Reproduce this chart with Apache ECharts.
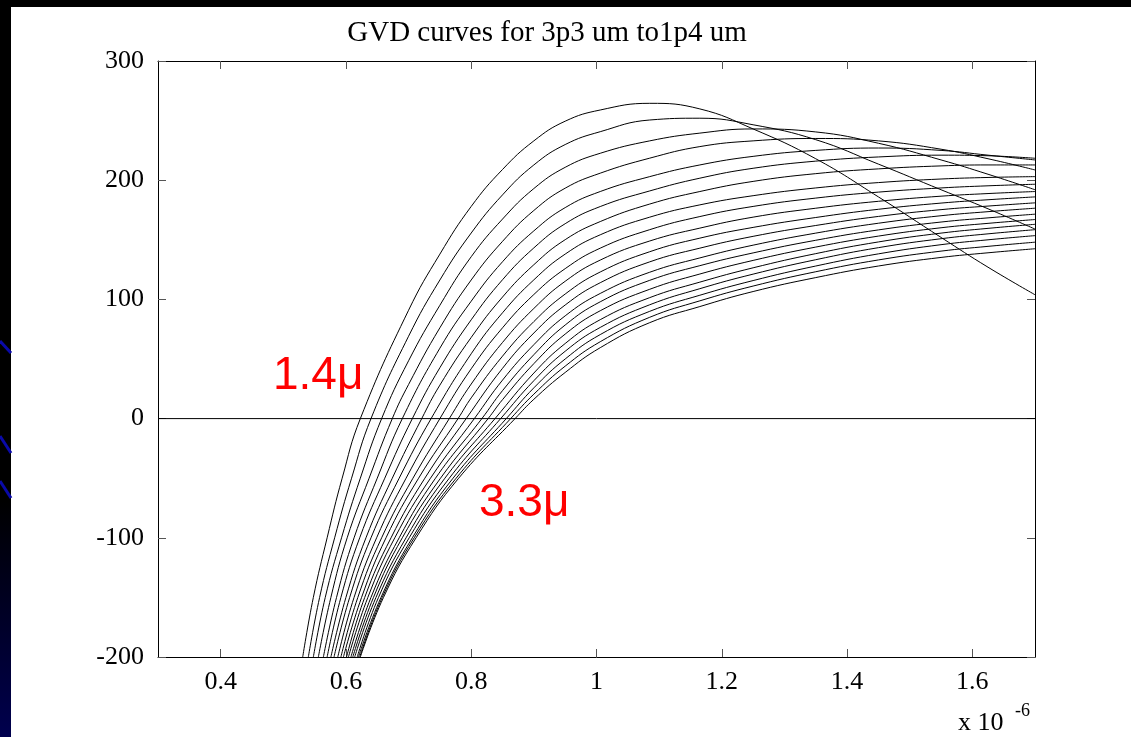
<!DOCTYPE html>
<html>
<head>
<meta charset="utf-8">
<title>GVD curves</title>
<script src="https://cdn.jsdelivr.net/npm/echarts@6/dist/echarts.min.js"></script>
<style>
  html, body { margin: 0; padding: 0; background: #fff; }
  #chart { width: 1131px; height: 737px; }
</style>
</head>
<body>
<div id="chart"></div>
<script>
// Core sizes, one GVD curve per size (1.4 um ... 3.3 um)
const coreSizes = ['1.4', '1.5', '1.6', '1.7', '1.8', '1.9', '2.0', '2.1', '2.2', '2.3',
                   '2.4', '2.5', '2.6', '2.7', '2.8', '2.9', '3.0', '3.1', '3.2', '3.3'];

// Wavelength (x 1e-6 m) where each curve passes the given GVD level
const gvdLevels   = [-200, -150, -100, -50, 0];
const xAtMinus200 = [0.531, 0.540, 0.548, 0.556, 0.564, 0.570, 0.576, 0.581, 0.587, 0.592,
                     0.596, 0.601, 0.604, 0.608, 0.611, 0.614, 0.618, 0.620, 0.622, 0.623];
const xAtMinus150 = [0.548, 0.558, 0.567, 0.576, 0.585, 0.592, 0.600, 0.606, 0.613, 0.619,
                     0.625, 0.630, 0.635, 0.640, 0.644, 0.648, 0.652, 0.656, 0.658, 0.660];
const xAtMinus100 = [0.570, 0.582, 0.593, 0.602, 0.613, 0.622, 0.632, 0.640, 0.649, 0.657,
                     0.664, 0.672, 0.678, 0.685, 0.690, 0.696, 0.701, 0.706, 0.709, 0.712];
const xAtMinus50  = [0.594, 0.609, 0.623, 0.637, 0.650, 0.662, 0.674, 0.685, 0.696, 0.707,
                     0.716, 0.726, 0.735, 0.743, 0.751, 0.758, 0.765, 0.771, 0.776, 0.780];
const xAtZero     = [0.623, 0.640, 0.657, 0.674, 0.690, 0.706, 0.721, 0.736, 0.750, 0.765,
                     0.779, 0.792, 0.805, 0.817, 0.827, 0.838, 0.847, 0.856, 0.863, 0.870];

// GVD of each curve at fixed wavelengths (null = not sampled there)
const sampleX = [0.70, 0.75, 0.80, 0.85, 0.90, 0.95, 1.006, 1.085, 1.165, 1.25, 1.35, 1.45, 1.55, 1.625, 1.70];
const yAt070  = [90.9, 69.1, 48.5, 28.6, null, null, null, null, null, null,
                 null, null, null, null, null, null, null, null, null, null];
const yAt075  = [138.0, 116.3, 95.1, 76.2, 59.1, 42.7, 28.1, null, null, null,
                 null, null, null, null, null, null, null, null, null, null];
const yAt080  = [178.0, 155.7, 135.8, 116.3, 98.5, 82.9, 68.1, 54.4, 41.8, 29.0,
                 17.4, null, null, null, null, null, null, null, null, null];
const yAt085  = [209.0, 187.7, 167.4, 148.7, 131.6, 116.5, 102.0, 88.8, 76.2, 63.9,
                 52.4, 42.2, 32.3, 23.5, 15.9, null, null, null, null, null];
const yAt090  = [233.0, 212.8, 193.0, 174.6, 157.5, 143.2, 129.1, 116.4, 104.1, 92.4,
                 81.4, 71.8, 62.0, 53.6, 46.1, 38.2, 31.8, 25.8, 20.5, 16.2];
const yAt095  = [249.5, 229.9, 210.8, 193.3, 177.0, 163.5, 150.1, 138.0, 125.8, 115.2,
                 104.5, 95.3, 86.2, 78.5, 70.9, 63.0, 56.5, 50.0, 44.0, 38.7];
const yAt1006 = [258.9, 240.7, 222.6, 205.9, 190.5, 177.9, 165.3, 154.2, 143.0, 133.0,
                 123.0, 114.0, 105.0, 98.0, 90.5, 83.0, 76.5, 70.5, 64.5, 59.5];
const yAt1085 = [264.5, 250.5, 233.0, 218.5, 203.0, 191.0, 180.0, 169.0, 158.5, 149.0,
                 140.0, 131.5, 122.8, 116.0, 108.5, 101.5, 95.5, 90.0, 85.0, 80.5];
const yAt1165 = [259.8, 252.0, 239.5, 228.2, 212.8, 201.7, 190.5, 179.3, 169.5, 159.8,
                 151.4, 143.0, 134.8, 128.3, 121.3, 114.5, 109.0, 103.5, 98.8, 94.0];
const yAt125  = [243.0, 246.5, 243.0, 233.0, 220.0, 210.0, 199.0, 187.0, 178.0, 169.0,
                 160.4, 152.9, 145.5, 139.0, 132.7, 126.5, 121.2, 115.8, 111.2, 106.6];
const yAt135  = [218.0, 234.0, 240.5, 235.0, 225.0, 216.0, 205.5, 193.5, 185.0, 176.5,
                 168.7, 162.0, 155.6, 149.6, 143.9, 138.4, 133.3, 128.0, 123.2, 118.3];
const yAt145  = [186.0, 213.5, 231.0, 233.0, 227.0, 219.5, 209.5, 198.0, 190.0, 182.3,
                 175.6, 169.6, 163.9, 158.3, 153.1, 148.2, 143.4, 138.2, 133.1, 128.0];
const yAt155  = [152.0, 192.0, 217.0, 226.0, 225.0, 221.0, 212.0, 201.0, 193.5, 186.6,
                 180.8, 175.3, 170.2, 164.9, 160.1, 155.6, 150.9, 145.9, 140.5, 135.2];
const yAt1625 = [127.0, 176.0, 205.0, 218.0, 221.0, 220.5, 212.8, 202.3, 195.3, 188.8,
                 183.6, 178.3, 173.6, 168.4, 163.8, 159.6, 155.0, 150.0, 144.5, 139.1];
const yAt170  = [103.9, 159.0, 192.0, 208.6, 217.0, 218.4, 212.8, 203.0, 196.6, 190.5,
                 186.0, 181.0, 176.5, 171.5, 167.0, 163.0, 158.5, 153.5, 148.0, 142.5];

// Axis ticks
const xTickValues = [0.4, 0.6, 0.8, 1.0, 1.2, 1.4, 1.6];
const xRange = [0.3, 1.7];
const yRange = [-200, 300];
const zeroLevel = 0;

const levelX  = [xAtMinus200, xAtMinus150, xAtMinus100, xAtMinus50, xAtZero];
const sampleY = [yAt070, yAt075, yAt080, yAt085, yAt090, yAt095, yAt1006, yAt1085,
                 yAt1165, yAt125, yAt135, yAt145, yAt155, yAt1625, yAt170];

function curvePoints(k) {
  const pts = gvdLevels.map((lvl, i) => [levelX[i][k], lvl]);
  sampleX.forEach((x, j) => {
    const v = sampleY[j][k];
    if (v !== null) pts.push([x, v]);
  });
  return pts;
}

const serif = '"Liberation Serif", "Times New Roman", serif';
const tickLine = { color: '#555', width: 1 };
const frameLine = { show: true, onZero: false, lineStyle: { color: '#000', width: 1 } };

const curveSeries = coreSizes.map((size, k) => ({
  name: size + ' um',
  type: 'line',
  xAxisIndex: 0,
  yAxisIndex: 0,
  data: curvePoints(k),
  showSymbol: false,
  symbol: 'none',
  smooth: 0.45,
  clip: true,
  silent: true,
  lineStyle: { color: '#000', width: 1 },
  z: 3
}));

const zeroSeries = {
  name: 'zero',
  type: 'line',
  data: [[xRange[0], zeroLevel], [xRange[1], zeroLevel]],
  showSymbol: false,
  symbol: 'none',
  silent: true,
  lineStyle: { color: '#000', width: 1 },
  z: 2
};

const chart = echarts.init(document.getElementById('chart'), null, { renderer: 'canvas' });
chart.setOption({
  animation: false,
  backgroundColor: '#fff',
  title: {
    text: 'GVD curves for 3p3 um to1p4 um',
    left: 542,
    top: 14,
    textAlign: 'center',
    textStyle: { fontFamily: serif, fontSize: 29, fontWeight: 'normal', color: '#000' }
  },
  grid: { left: 158, top: 61, right: 96, bottom: 80, containLabel: false },
  xAxis: [
    {
      type: 'value', position: 'bottom', min: xRange[0], max: xRange[1],
      axisLine: frameLine,
      axisTick: { show: true, inside: true, length: 8, customValues: xTickValues, lineStyle: tickLine },
      axisLabel: { show: true, customValues: xTickValues, margin: 12,
                   fontFamily: serif, fontSize: 26, color: '#000' },
      splitLine: { show: false }
    },
    {
      type: 'value', position: 'top', min: xRange[0], max: xRange[1],
      axisLine: frameLine,
      axisTick: { show: true, inside: true, length: 8, customValues: xTickValues, lineStyle: tickLine },
      axisLabel: { show: false },
      splitLine: { show: false }
    }
  ],
  yAxis: [
    {
      type: 'value', position: 'left', min: yRange[0], max: yRange[1], interval: 100,
      axisLine: frameLine,
      axisTick: { show: true, inside: true, length: 8, lineStyle: tickLine },
      axisLabel: { show: true, margin: 14, fontFamily: serif, fontSize: 26, color: '#000' },
      splitLine: { show: false }
    },
    {
      type: 'value', position: 'right', min: yRange[0], max: yRange[1], interval: 100,
      axisLine: frameLine,
      axisTick: { show: true, inside: true, length: 8, lineStyle: tickLine },
      axisLabel: { show: false },
      splitLine: { show: false }
    }
  ],
  graphic: [
    { type: 'rect', silent: true, shape: { x: 0, y: 0, width: 1131, height: 7 }, style: { fill: '#000' } },
    {
      type: 'rect', silent: true, shape: { x: 0, y: 0, width: 11, height: 737 },
      style: {
        fill: new echarts.graphic.LinearGradient(0, 0, 0, 1, [
          { offset: 0, color: '#000' },
          { offset: 0.68, color: '#000' },
          { offset: 1, color: '#00004e' }
        ])
      }
    },
    { type: 'line', silent: true, shape: { x1: 0, y1: 341, x2: 11, y2: 353 }, style: { stroke: '#0a0aa8', lineWidth: 3 } },
    { type: 'line', silent: true, shape: { x1: 0, y1: 436, x2: 11, y2: 453 }, style: { stroke: '#0a0aa8', lineWidth: 3 } },
    { type: 'line', silent: true, shape: { x1: 0, y1: 481, x2: 11, y2: 498 }, style: { stroke: '#0a0aa8', lineWidth: 3 } },
    {
      type: 'text', silent: true, z: 10,
      style: { text: '1.4\u03bc', x: 273, y: 376, verticalAlign: 'middle',
               font: '46px "Liberation Sans", Arial, sans-serif', fill: '#ff0000' }
    },
    {
      type: 'text', silent: true, z: 10,
      style: { text: '3.3\u03bc', x: 479, y: 503, verticalAlign: 'middle',
               font: '46px "Liberation Sans", Arial, sans-serif', fill: '#ff0000' }
    },
    {
      type: 'text', silent: true,
      style: { text: 'x 10', x: 958, y: 723, verticalAlign: 'middle',
               font: '26px "Liberation Serif", "Times New Roman", serif', fill: '#000' }
    },
    {
      type: 'text', silent: true,
      style: { text: '-6', x: 1015, y: 711, verticalAlign: 'middle',
               font: '18px "Liberation Serif", "Times New Roman", serif', fill: '#000' }
    }
  ],
  series: [zeroSeries].concat(curveSeries)
});
</script>
</body>
</html>
